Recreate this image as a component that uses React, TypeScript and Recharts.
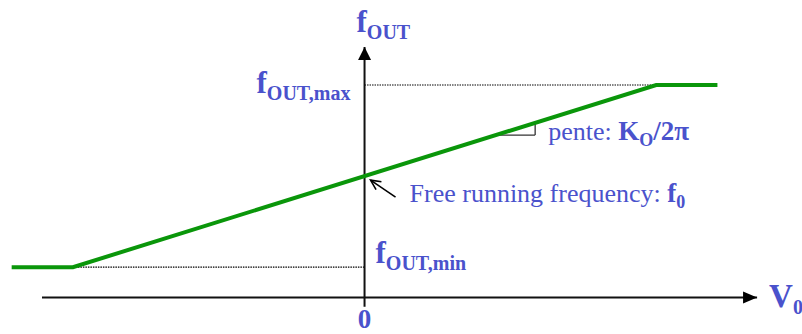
import { LineChart, Line, XAxis, YAxis, ReferenceLine, ReferenceDot } from 'recharts';

// VCO transfer characteristic: input voltage V0 -> output frequency fOUT
const vIn = [-1.21, -1, 1, 1.21];
const fOut = [1, 1, 7, 7];

const F_MIN = 1;
const F0 = 4;
const F_MAX = 7;
const V_LO = -1;
const V_HI = 1;

// drawn extent of the two axes (arrow tips included)
const xAxisSpan = [-1.106, 1.346];
const yAxisSpan = [-0.3, 8.25];

// little slope triangle under the ramp
const slopeRun = [0.45, 0.585];

const BLUE = '#4a52cc';
const GREEN = '#0a960a';
const SERIF = '"Liberation Serif", "Times New Roman", serif';

const data = vIn.map((v, i) => ({ v, f: fOut[i] }));
const slope = (F_MAX - F_MIN) / (V_HI - V_LO);
const rampAt = (v: number) => F0 + slope * v;

type DotProps = { cx: number; cy: number };

const arrowRight = (p: DotProps) => (
  <polygon points={`${p.cx},${p.cy} ${p.cx - 14},${p.cy - 6} ${p.cx - 14},${p.cy + 6}`} fill="#000" />
);

const arrowUp = (p: DotProps) => (
  <polygon points={`${p.cx},${p.cy} ${p.cx - 6.5},${p.cy + 13} ${p.cx + 6.5},${p.cy + 13}`} fill="#000" />
);

// f with a bold subscript, e.g. f_OUT,max
const fLabel = (dx: number, dy: number, sub: string) => (p: DotProps) => (
  <text x={p.cx + dx} y={p.cy + dy} fill={BLUE} fontFamily={SERIF} fontWeight="bold" fontSize={31}>
    f
    <tspan fontSize={20} dy={7}>{sub}</tspan>
  </text>
);

const zeroLabel = (p: DotProps) => (
  <text x={p.cx} y={p.cy + 30} textAnchor="middle" fill={BLUE} fontFamily={SERIF} fontWeight="bold" fontSize={27}>
    0
  </text>
);

const v0Label = (p: DotProps) => (
  <text x={p.cx + 12} y={p.cy + 9} fill={BLUE} fontFamily={SERIF} fontWeight="bold" fontSize={33}>
    V
    <tspan fontSize={20} dy={7}>0</tspan>
  </text>
);

const penteLabel = (p: DotProps) => (
  <text x={p.cx + 13} y={p.cy + 5} fill={BLUE} fontFamily={SERIF} fontSize={26}>
    pente:{' '}
    <tspan fontWeight="bold" fontSize={27}>K</tspan>
    <tspan fontWeight="bold" fontSize={18} dy={6}>O</tspan>
    <tspan fontWeight="bold" fontSize={27} dy={-6}>/2π</tspan>
  </text>
);

// pointer from the caption back to the f0 crossing
const freeRunning = (p: DotProps) => {
  const tipX = p.cx + 6;
  const tipY = p.cy + 4;
  const tailX = p.cx + 31;
  const tailY = p.cy + 21;
  const ang = Math.atan2(tailY - tipY, tailX - tipX);
  const head = 11;
  const spread = 0.45;
  const h1 = [tipX + head * Math.cos(ang - spread), tipY + head * Math.sin(ang - spread)];
  const h2 = [tipX + head * Math.cos(ang + spread), tipY + head * Math.sin(ang + spread)];
  return (
    <g>
      <line x1={tailX} y1={tailY} x2={tipX} y2={tipY} stroke="#000" strokeWidth={1.6} />
      <polyline points={`${h1[0]},${h1[1]} ${tipX},${tipY} ${h2[0]},${h2[1]}`} fill="none" stroke="#000" strokeWidth={1.6} />
      <text x={p.cx + 45} y={p.cy + 26} fill={BLUE} fontFamily={SERIF} fontSize={26}>
        Free running frequency:{' '}
        <tspan fontWeight="bold" fontSize={27}>f</tspan>
        <tspan fontWeight="bold" fontSize={18} dy={6}>0</tspan>
      </text>
    </g>
  );
};

export default function App() {
  const triLow = rampAt(slopeRun[0]);
  const triHigh = rampAt(slopeRun[1]);
  return (
    <div style={{ position: 'absolute', left: 0, top: 0, width: 802, height: 334, background: '#fff' }}>
      <LineChart width={802} height={334} data={data} margin={{ top: 0, right: 0, bottom: 0, left: 0 }}>
        <XAxis type="number" dataKey="v" domain={[-1.25, 1.5]} allowDataOverflow hide />
        <YAxis type="number" domain={[-1.2, 9.8]} allowDataOverflow hide />

        {/* guide lines to the saturation levels */}
        <ReferenceLine segment={[{ x: 0, y: F_MAX }, { x: V_HI, y: F_MAX }]} stroke="#000" strokeWidth={1.2} strokeDasharray="1.5 1" />
        <ReferenceLine segment={[{ x: V_LO, y: F_MIN }, { x: 0, y: F_MIN }]} stroke="#000" strokeWidth={1.2} strokeDasharray="1.5 1" />

        {/* axes */}
        <ReferenceLine segment={[{ x: xAxisSpan[0], y: 0 }, { x: xAxisSpan[1], y: 0 }]} stroke="#111" strokeWidth={2} />
        <ReferenceLine segment={[{ x: 0, y: yAxisSpan[0] }, { x: 0, y: yAxisSpan[1] }]} stroke="#111" strokeWidth={2} />
        <ReferenceDot x={xAxisSpan[1]} y={0} r={1} shape={arrowRight} />
        <ReferenceDot x={0} y={yAxisSpan[1]} r={1} shape={arrowUp} />

        {/* slope triangle */}
        <ReferenceLine segment={[{ x: slopeRun[0], y: triLow }, { x: slopeRun[1], y: triLow }]} stroke="#333" strokeWidth={1.3} />
        <ReferenceLine segment={[{ x: slopeRun[1], y: triLow }, { x: slopeRun[1], y: triHigh }]} stroke="#333" strokeWidth={1.3} />

        <Line
          type="linear"
          dataKey="f"
          stroke={GREEN}
          strokeWidth={4}
          dot={false}
          activeDot={false}
          isAnimationActive={false}
        />

        {/* labels */}
        <ReferenceDot x={0} y={yAxisSpan[1]} r={1} shape={fLabel(-8, -15, 'OUT')} />
        <ReferenceDot x={0} y={F_MAX} r={1} shape={fLabel(-108, 8, 'OUT,max')} />
        <ReferenceDot x={0} y={F_MIN} r={1} shape={fLabel(11, -4, 'OUT,min')} />
        <ReferenceDot x={0} y={0} r={1} shape={zeroLabel} />
        <ReferenceDot x={xAxisSpan[1]} y={0} r={1} shape={v0Label} />
        <ReferenceDot x={slopeRun[1]} y={triLow} r={1} shape={penteLabel} />
        <ReferenceDot x={0} y={F0} r={1} shape={freeRunning} />
      </LineChart>
    </div>
  );
}
